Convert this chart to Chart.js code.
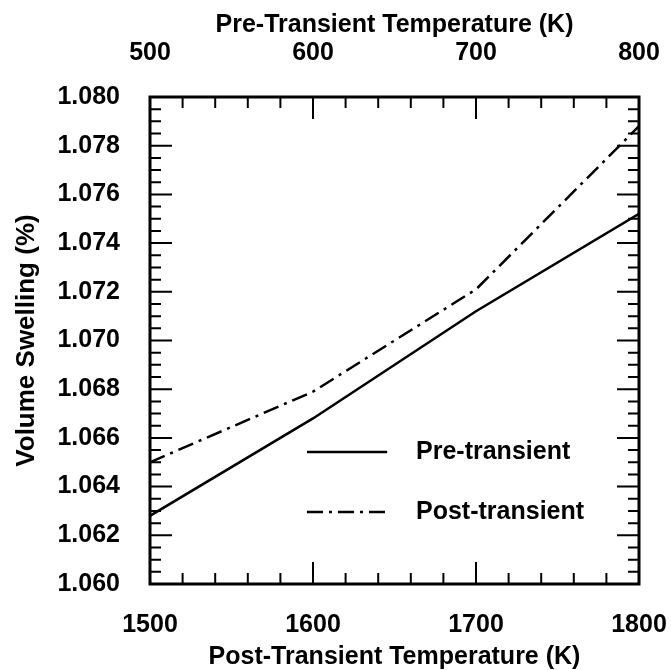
<!DOCTYPE html>
<html>
<head>
<meta charset="utf-8">
<title>Volume Swelling</title>
<script src="https://cdn.jsdelivr.net/npm/chart.js@4/dist/chart.umd.min.js"></script>
<style>
  body { margin: 0; background: #fff; }
  #wrap { width: 671px; height: 670px; }
</style>
</head>
<body>
<div id="wrap"><canvas id="swellingChart"></canvas></div>
<script>
// post-transient temperatures (bottom axis)
const temps = [1500, 1600, 1700, 1800];
const preTransient = [1.0628, 1.0668, 1.0712, 1.0752];
const postTransient = [1.065, 1.0679, 1.0721, 1.0788];

const bottomTicks = [1500, 1600, 1700, 1800];
const topTicks = [500, 600, 700, 800];
const yTicks = [1.06, 1.062, 1.064, 1.066, 1.068, 1.07, 1.072, 1.074, 1.076, 1.078, 1.08];

const seriesNames = ["Pre-transient", "Post-transient"];

Chart.defaults.font.family = "'Liberation Sans', Arial, sans-serif";
Chart.defaults.font.size = 25;
Chart.defaults.font.weight = "bold";
Chart.defaults.color = "#000";

function setTicks(values) {
  return function (scale) {
    scale.ticks = values.map((v) => ({ value: v }));
  };
}

// fixed box size; end labels may hang past the plot edges
function fixHeight(h) {
  return function (scale) {
    scale.height = h;
    scale.paddingLeft = 0;
    scale.paddingRight = 0;
  };
}

// frame plus inward major/minor ticks on all four sides
const frameTicks = {
  id: "frameTicks",
  afterDatasetsDraw(chart) {
    const ctx = chart.ctx;
    const { left, right, top, bottom } = chart.chartArea;
    const xs = chart.scales.x;
    const ys = chart.scales.y;
    ctx.save();
    ctx.strokeStyle = "#000";
    ctx.lineWidth = 2;
    ctx.beginPath();
    for (let i = 0; i <= 15; i++) {
      const px = xs.getPixelForValue(1500 + i * 20);
      const len = i % 5 === 0 ? 22 : 11;
      ctx.moveTo(px, bottom);
      ctx.lineTo(px, bottom - len);
      ctx.moveTo(px, top);
      ctx.lineTo(px, top + len);
    }
    for (let i = 0; i <= 40; i++) {
      const py = ys.getPixelForValue(1.06 + i * 0.0005);
      const len = i % 4 === 0 ? 22 : 11;
      ctx.moveTo(left, py);
      ctx.lineTo(left + len, py);
      ctx.moveTo(right, py);
      ctx.lineTo(right - len, py);
    }
    ctx.stroke();
    ctx.lineWidth = 3;
    ctx.strokeRect(left, top, right - left, bottom - top);
    ctx.restore();
  },
};

// legend drawn inside the plot area
const innerLegend = {
  id: "innerLegend",
  afterDraw(chart) {
    const ctx = chart.ctx;
    const { left, top, width, height } = chart.chartArea;
    const x0 = left + width * 0.321;
    const x1 = left + width * 0.485;
    const tx = left + width * 0.544;
    const rows = [0.729, 0.852];
    ctx.save();
    ctx.font = "bold 25px 'Liberation Sans', Arial, sans-serif";
    ctx.textBaseline = "middle";
    ctx.fillStyle = "#000";
    chart.data.datasets.forEach((ds, i) => {
      const y = top + height * rows[i];
      ctx.strokeStyle = ds.borderColor;
      ctx.lineWidth = ds.borderWidth;
      ctx.setLineDash(ds.borderDash || []);
      ctx.beginPath();
      ctx.moveTo(x0, y);
      ctx.lineTo(x1, y);
      ctx.stroke();
      ctx.fillText(ds.label, tx, y);
    });
    ctx.restore();
  },
};

const ctx = document.getElementById("swellingChart").getContext("2d");
new Chart(ctx, {
  type: "line",
  data: {
    datasets: [
      {
        label: seriesNames[0],
        data: temps.map((t, i) => ({ x: t, y: preTransient[i] })),
        borderColor: "#000",
        borderWidth: 2.5,
        pointRadius: 0,
        tension: 0,
      },
      {
        label: seriesNames[1],
        data: temps.map((t, i) => ({ x: t, y: postTransient[i] })),
        borderColor: "#000",
        borderWidth: 2.5,
        borderDash: [16, 6, 3, 6],
        pointRadius: 0,
        tension: 0,
      },
    ],
  },
  options: {
    responsive: true,
    maintainAspectRatio: false,
    animation: false,
    layout: { padding: 0 },
    plugins: {
      legend: { display: false },
      tooltip: { enabled: false },
    },
    scales: {
      x: {
        type: "linear",
        position: "bottom",
        min: 1500,
        max: 1800,
        afterBuildTicks: setTicks(bottomTicks),
        afterFit: fixHeight(86),
        grid: { display: false, drawTicks: false },
        border: { display: false },
        ticks: {
          padding: 28.5,
          maxRotation: 0,
          font: { lineHeight: 1 },
          callback: (v) => String(v),
        },
        title: {
          display: true,
          text: "Post-Transient Temperature (K)",
          font: { lineHeight: 1 },
          padding: { top: 0, bottom: 0.5 },
        },
      },
      x2: {
        type: "linear",
        position: "top",
        min: 500,
        max: 800,
        afterBuildTicks: setTicks(topTicks),
        afterFit: fixHeight(97),
        grid: { display: false, drawTicks: false },
        border: { display: false },
        ticks: {
          padding: 31.5,
          maxRotation: 0,
          font: { lineHeight: 1 },
          callback: (v) => String(v),
        },
        title: {
          display: true,
          text: "Pre-Transient Temperature (K)",
          font: { lineHeight: 1 },
          padding: { top: 12.5, bottom: 0 },
        },
      },
      y: {
        type: "linear",
        position: "left",
        min: 1.06,
        max: 1.08,
        afterBuildTicks: setTicks(yTicks),
        afterFit(scale) { scale.width = 150; },
        grid: { display: false, drawTicks: false },
        border: { display: false },
        ticks: {
          padding: 30,
          font: { lineHeight: 1 },
          callback: (v) => v.toFixed(3),
        },
        title: {
          display: true,
          text: "Volume Swelling (%)",
          font: { size: 26, lineHeight: 1 },
          padding: { top: 14, bottom: 0 },
        },
      },
      y2: {
        type: "linear",
        position: "right",
        min: 1.06,
        max: 1.08,
        afterFit(scale) { scale.width = 32; },
        grid: { display: false, drawTicks: false },
        border: { display: false },
        ticks: { display: false },
      },
    },
  },
  plugins: [frameTicks, innerLegend],
});
</script>
</body>
</html>
